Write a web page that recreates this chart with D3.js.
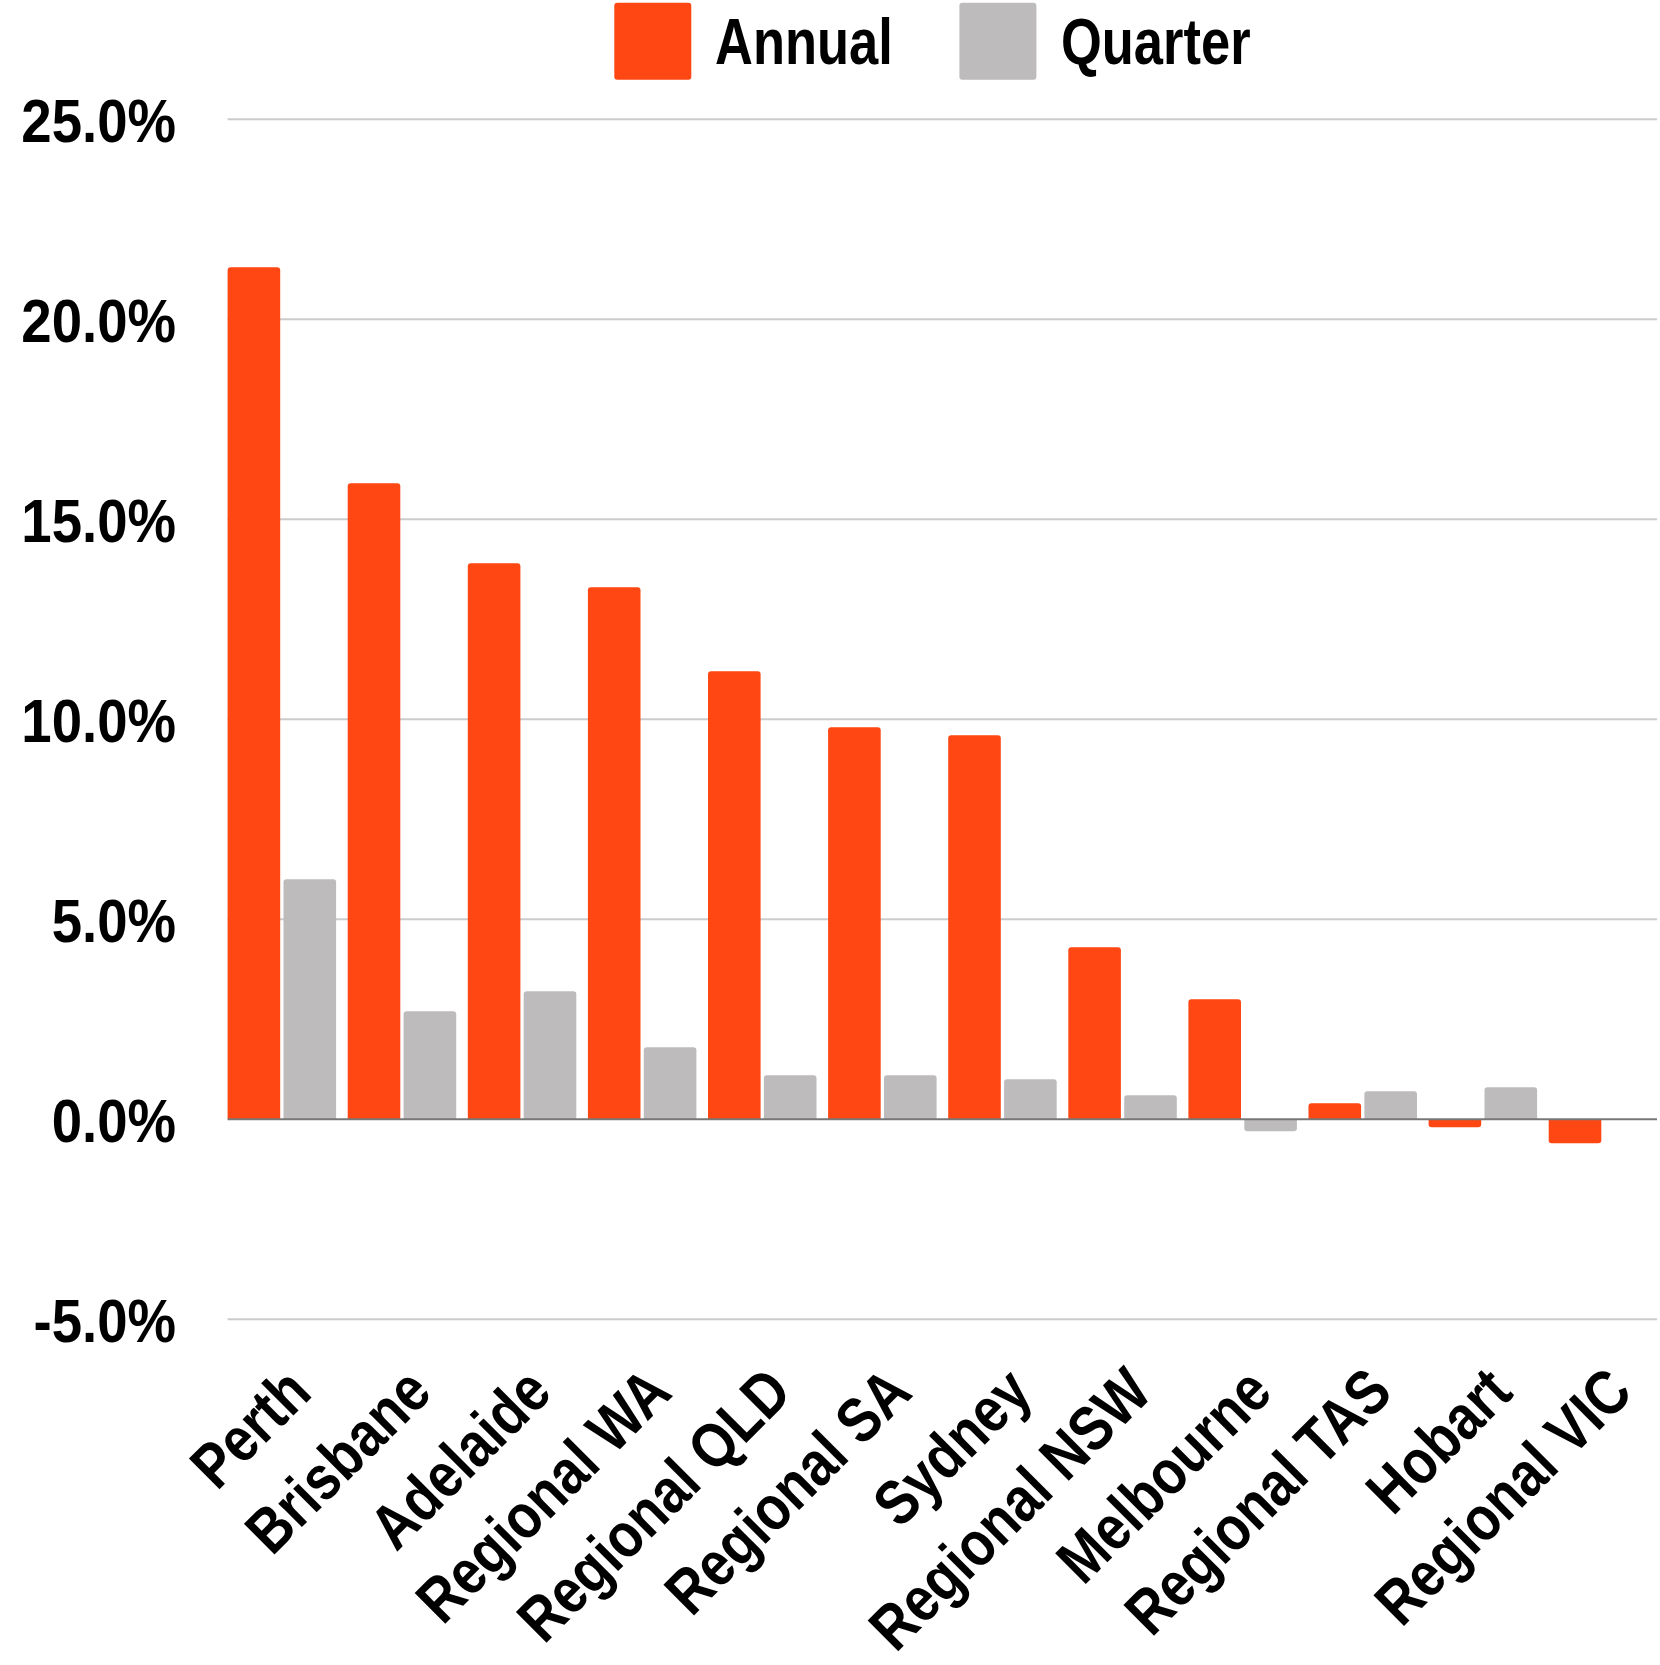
<!DOCTYPE html>
<html>
<head>
<meta charset="utf-8">
<script src="https://cdn.jsdelivr.net/npm/d3@7"></script>
<style>
  html, body { margin: 0; padding: 0; background: #fff; }
  svg { display: block; }
  text { font-family: "Liberation Sans", Arial, sans-serif; font-weight: bold; fill: #000; }
</style>
</head>
<body>
<svg id="chart" width="1660" height="1665"></svg>
<script>
const categories = ["Perth", "Brisbane", "Adelaide", "Regional WA", "Regional QLD", "Regional SA",
  "Sydney", "Regional NSW", "Melbourne", "Regional TAS", "Hobart", "Regional VIC"];
const seriesNames = ["Annual", "Quarter"];
const annual  = [21.3, 15.9, 13.9, 13.3, 11.2, 9.8, 9.6, 4.3, 3.0, 0.4, -0.2, -0.6];
const quarter = [6.0, 2.7, 3.2, 1.8, 1.1, 1.1, 1.0, 0.6, -0.3, 0.7, 0.8, 0.0];
const yTicks = [-5, 0, 5, 10, 15, 20, 25];
const colors = ["#ff4713", "#bdbbbc"];

const svg = d3.select("#chart");
const left = 227.6, step = 120.1;
const x0 = d3.scaleBand().domain(categories).range([left, left + step * categories.length]).paddingInner(0).paddingOuter(0);
const groupW = 108.5;
const x1 = d3.scaleBand().domain(seriesNames).range([0, groupW]).paddingInner(0.059).paddingOuter(0);
const y = d3.scaleLinear().domain([-5, 25]).range([1319.3, 119.3]);
const plotRight = 1657;
const fmt = d => d3.format(".1f")(d).replace("\u2212", "-") + "%";

// gridlines
svg.append("g").selectAll("line").data(yTicks.filter(t => t !== 0)).join("line")
  .attr("x1", left).attr("x2", plotRight)
  .attr("y1", d => y(d)).attr("y2", d => y(d))
  .attr("stroke", "#cccccc").attr("stroke-width", 2);

// y labels
svg.append("g").selectAll("text").data(yTicks).join("text")
  .attr("transform", d => `translate(176,${y(d) + 22.4}) scale(0.88,1)`)
  .attr("text-anchor", "end")
  .attr("font-size", 62)
  .text(fmt);

// bars
function barPath(x, w, v) {
  const y0 = y(0), y1 = y(v);
  const r = Math.min(3, Math.abs(y1 - y0));
  if (v >= 0) {
    return `M${x},${y0}V${y1 + r}Q${x},${y1} ${x + r},${y1}H${x + w - r}Q${x + w},${y1} ${x + w},${y1 + r}V${y0}Z`;
  } else {
    return `M${x},${y0}V${y1 - r}Q${x},${y1} ${x + r},${y1}H${x + w - r}Q${x + w},${y1} ${x + w},${y1 - r}V${y0}Z`;
  }
}
const data = categories.map((c, i) => ({ c, vals: [annual[i], quarter[i]] }));
const groups = svg.append("g").selectAll("g").data(data).join("g")
  .attr("transform", d => `translate(${x0(d.c)},0)`);
groups.selectAll("path").data(d => d.vals.map((v, j) => ({ v, s: seriesNames[j], j })).filter(d => d.v !== 0))
  .join("path")
  .attr("d", d => barPath(x1(d.s), x1.bandwidth(), d.v))
  .attr("fill", d => colors[d.j]);

// zero line
svg.append("line").attr("x1", left).attr("x2", plotRight)
  .attr("y1", y(0)).attr("y2", y(0))
  .attr("stroke", "#777777").attr("stroke-width", 2);

// x labels
svg.append("g").selectAll("text").data(categories).join("text")
  .attr("text-anchor", "end")
  .attr("font-size", 63)
  .attr("transform", d => `translate(${x0(d) + groupW / 2 + 32},1395) rotate(-45) scale(0.85,1)`)
  .text(d => d);

// legend
const legend = svg.append("g");
const legendItems = [{ name: seriesNames[0], bx: 614.3, tx: 715 }, { name: seriesNames[1], bx: 959.4, tx: 1061 }];
legendItems.forEach((it, i) => {
  legend.append("rect").attr("x", it.bx).attr("y", 2.7).attr("width", 77).attr("height", 77)
    .attr("rx", 3).attr("fill", colors[i]);
  legend.append("text").attr("transform", `translate(${it.tx},64) scale(0.82,1)`)
    .attr("font-size", 64).text(it.name);
});
</script>
</body>
</html>
